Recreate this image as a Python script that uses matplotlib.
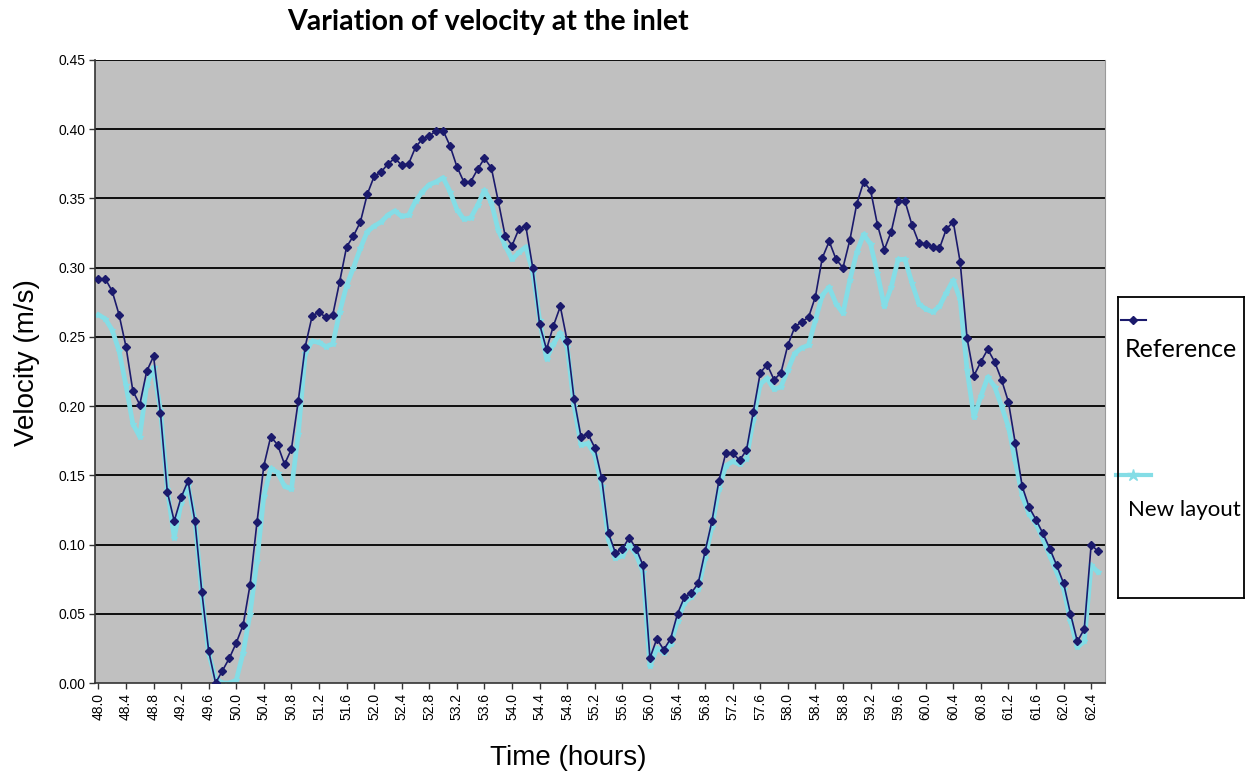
import numpy as np
import matplotlib
matplotlib.use("Agg")
import matplotlib.pyplot as plt

# time axis, 0.1 h steps from 48.0 to 62.5 h
time_h = np.round(np.arange(480, 626) / 10.0, 1)

# velocity (m/s)
reference = [
    0.292, 0.292, 0.283, 0.266, 0.243, 0.211, 0.201, 0.225, 0.236, 0.195,  # 48.0-48.9
    0.138, 0.117, 0.134, 0.146, 0.117, 0.066, 0.023, 0.000, 0.009, 0.018,  # 49.0-49.9
    0.029, 0.042, 0.071, 0.116, 0.157, 0.178, 0.172, 0.158, 0.169, 0.204,  # 50.0-50.9
    0.243, 0.265, 0.268, 0.264, 0.266, 0.290, 0.315, 0.323, 0.333, 0.353,  # 51.0-51.9
    0.366, 0.369, 0.375, 0.379, 0.374, 0.375, 0.387, 0.393, 0.395, 0.399,  # 52.0-52.9
    0.399, 0.388, 0.373, 0.362, 0.362, 0.371, 0.379, 0.372, 0.348, 0.323,  # 53.0-53.9
    0.316, 0.328, 0.330, 0.300, 0.259, 0.241, 0.258, 0.272, 0.247, 0.205,  # 54.0-54.9
    0.178, 0.180, 0.170, 0.148, 0.108, 0.094, 0.097, 0.105, 0.097, 0.085,  # 55.0-55.9
    0.018, 0.032, 0.024, 0.032, 0.050, 0.062, 0.065, 0.072, 0.095, 0.117,  # 56.0-56.9
    0.146, 0.166, 0.166, 0.161, 0.168, 0.196, 0.224, 0.230, 0.219, 0.224,  # 57.0-57.9
    0.244, 0.257, 0.261, 0.264, 0.279, 0.307, 0.319, 0.306, 0.300, 0.320,  # 58.0-58.9
    0.346, 0.362, 0.356, 0.331, 0.313, 0.326, 0.348, 0.348, 0.331, 0.318,  # 59.0-59.9
    0.317, 0.315, 0.314, 0.328, 0.333, 0.304, 0.249, 0.222, 0.232, 0.241,  # 60.0-60.9
    0.232, 0.219, 0.203, 0.173, 0.142, 0.127, 0.118, 0.108, 0.097, 0.085,  # 61.0-61.9
    0.072, 0.050, 0.030, 0.039, 0.100, 0.095,                              # 62.0-62.5
]

new_layout = [
    0.266, 0.263, 0.255, 0.240, 0.215, 0.187, 0.178, 0.215, 0.228, 0.197,  # 48.0-48.9
    0.140, 0.105, 0.130, 0.143, 0.118, 0.064, 0.021, 0.003, 0.000, 0.000,  # 49.0-49.9
    0.002, 0.022, 0.050, 0.088, 0.135, 0.155, 0.152, 0.142, 0.140, 0.180,  # 50.0-50.9
    0.238, 0.247, 0.246, 0.243, 0.245, 0.268, 0.287, 0.300, 0.314, 0.326,  # 51.0-51.9
    0.330, 0.333, 0.338, 0.341, 0.337, 0.338, 0.348, 0.355, 0.360, 0.362,  # 52.0-52.9
    0.365, 0.355, 0.342, 0.335, 0.336, 0.345, 0.356, 0.347, 0.327, 0.316,  # 53.0-53.9
    0.306, 0.311, 0.315, 0.297, 0.262, 0.234, 0.245, 0.253, 0.243, 0.200,  # 54.0-54.9
    0.172, 0.173, 0.165, 0.142, 0.103, 0.090, 0.092, 0.100, 0.093, 0.080,  # 55.0-55.9
    0.012, 0.025, 0.022, 0.028, 0.045, 0.058, 0.062, 0.068, 0.090, 0.113,  # 56.0-56.9
    0.140, 0.157, 0.160, 0.158, 0.162, 0.190, 0.216, 0.220, 0.212, 0.214,  # 57.0-57.9
    0.226, 0.238, 0.242, 0.244, 0.262, 0.280, 0.286, 0.274, 0.267, 0.291,  # 58.0-58.9
    0.311, 0.324, 0.317, 0.296, 0.272, 0.286, 0.306, 0.306, 0.289, 0.274,  # 59.0-59.9
    0.270, 0.268, 0.272, 0.282, 0.291, 0.277, 0.226, 0.192, 0.207, 0.221,  # 60.0-60.9
    0.214, 0.200, 0.185, 0.160, 0.135, 0.122, 0.115, 0.104, 0.092, 0.080,  # 61.0-61.9
    0.068, 0.045, 0.026, 0.030, 0.085, 0.080,                              # 62.0-62.5
]

x_ticks = np.round(np.arange(480, 625, 4) / 10.0, 1)
y_ticks = np.round(np.arange(0, 46, 5) / 100.0, 2)

ref_color = "#1b1a6c"
new_color = "#84dde6"

fig = plt.figure(figsize=(12.46, 7.78), dpi=100)
ax = fig.add_axes([0.0762, 0.1221, 0.8106, 0.8008])
ax.set_facecolor("#c0c0c0")

# horizontal gridlines
for yv in y_ticks[1:]:
    ax.axhline(yv, color="black", lw=1.3, zorder=1)

ax.plot(time_h, new_layout, color=new_color, lw=3.4, marker="*", ms=4,
        mec=new_color, zorder=2)
ax.plot(time_h, reference, color=ref_color, lw=1.2, marker="D", ms=3.8,
        mec=ref_color, zorder=3)

ax.set_xlim(47.95, 62.6)
ax.set_ylim(0, 0.45)
ax.set_xticks(x_ticks)
ax.set_xticklabels([f"{t:.1f}" for t in x_ticks], rotation=90,
                   fontsize=10, family="Liberation Sans")
ax.set_yticks(y_ticks)
ax.set_yticklabels([f"{v:.2f}" for v in y_ticks], fontsize=10,
                   family="Liberation Sans")
ax.tick_params(axis="both", length=4, width=1, color="#333333", pad=3)

ax.spines["top"].set_visible(False)
ax.spines["right"].set_color("#9a9a9a")
ax.spines["right"].set_linewidth(0.8)
ax.spines["left"].set_color("#333333")
ax.spines["bottom"].set_color("#333333")
ax.spines["left"].set_linewidth(1.2)
ax.spines["bottom"].set_linewidth(1.2)

ax.set_ylabel("Velocity (m/s)", fontsize=20, family="Liberation Sans")
ax.yaxis.set_label_coords(-0.054, 0.515)
ax.set_xlabel("Time (hours)", fontsize=20, family="Liberation Sans")
ax.xaxis.set_label_coords(0.469, -0.1)

fig.text(0.392, 0.972, "Variation of velocity at the inlet", ha="center",
         va="center", fontsize=20.5, fontweight="bold", family="Lato")

# legend drawn as a separate boxed panel, handles above the labels
lax = fig.add_axes([0.8973, 0.2314, 0.1011, 0.3869])
lax.set_xlim(0, 1)
lax.set_ylim(0, 1)
lax.set_xticks([])
lax.set_yticks([])
for s in lax.spines.values():
    s.set_linewidth(1.3)
    s.set_color("black")
lax.plot([0.02, 0.22], [0.924, 0.924], color=ref_color, lw=1.5)
lax.plot([0.12], [0.924], color=ref_color, marker="D", ms=4)
lax.text(0.05, 0.824, "Reference", fontsize=18, family="Lato", va="center")
lax.plot([-0.02, 0.26], [0.409, 0.409], color=new_color, lw=3, clip_on=False)
lax.plot([0.12], [0.409], color=new_color, marker="*", ms=9, clip_on=False)
lax.text(0.08, 0.292, "New layout", fontsize=16, family="Lato", va="center")

fig.savefig("out.png", dpi=100)
